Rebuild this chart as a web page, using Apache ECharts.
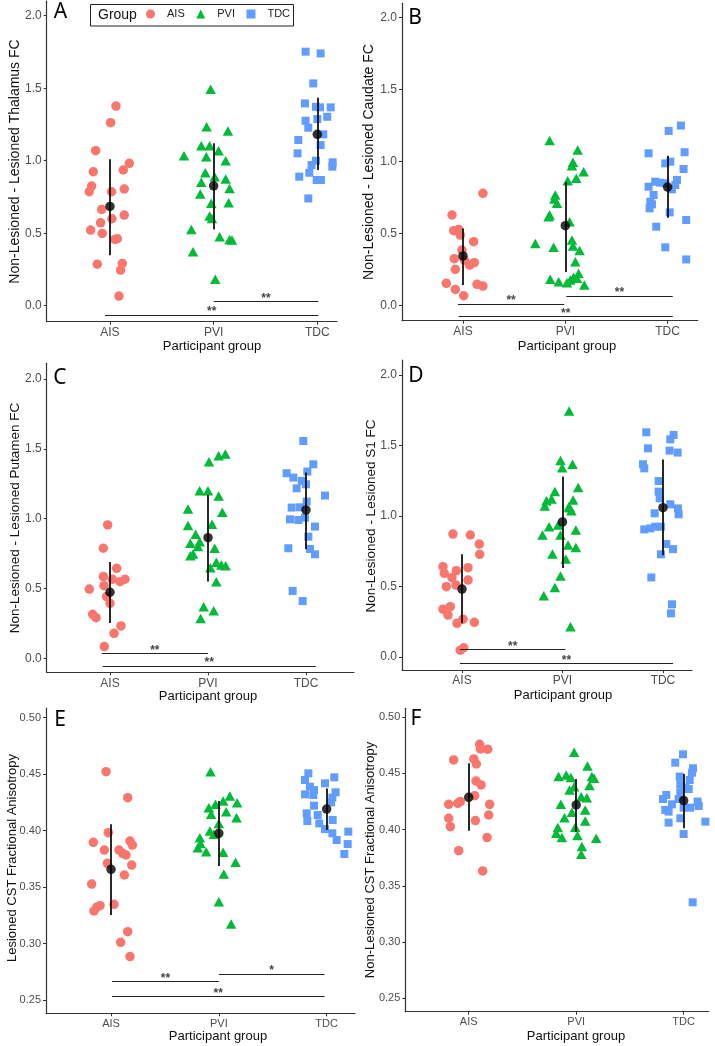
<!DOCTYPE html>
<html><head><meta charset="utf-8">
<script src="https://cdn.jsdelivr.net/npm/echarts@6/dist/echarts.min.js"></script>
<style>html,body{margin:0;padding:0;background:#fff}#chart{width:715px;height:1046px}</style>
</head><body><div id="chart"></div>
<script>
// ---------- DATA ----------
const GROUPS = ['AIS', 'PVI', 'TDC'];
const FC_TICKS = [0, 0.5, 1.0, 1.5, 2.0];
const FA_TICKS = [0.25, 0.30, 0.35, 0.40, 0.45, 0.50];

// Panel A: Thalamus FC
const A_AIS_y = [1.377,1.262,1.069,0.982,0.924,0.936,0.825,0.786,0.786,0.805,0.664,0.600,0.625,0.572,0.522,0.499,0.457,0.462,0.287,0.292,0.246,0.067];
const A_AIS_dx = [0.058,0.006,-0.138,0.187,-0.161,0.129,-0.177,-0.2,0.016,0.138,-0.08,0.019,0.138,-0.09,-0.186,-0.074,0.048,0.071,-0.122,0.119,0.103,0.087];
const A_PVI_y = [1.492,1.234,1.205,1.103,1.103,1.034,1.028,1.069,1.0,0.917,0.89,0.874,0.851,0.809,0.77,0.706,0.71,0.618,0.602,0.526,0.476,0.457,0.453,0.372,0.182];
const A_PVI_dx = [-0.029,-0.068,0.138,-0.119,-0.039,-0.286,-0.071,0.048,0.116,-0.08,0.01,0.116,-0.119,0.154,-0.129,-0.023,0.145,-0.039,-0.016,-0.215,0.058,0.154,0.177,-0.199,0.016];
const A_TDC_y = [1.752,1.74,1.533,1.395,1.372,1.368,1.368,1.303,1.276,1.287,1.228,1.182,1.143,1.108,1.051,1.0,0.989,0.959,0.97,0.89,0.917,0.867,0.867,0.74];
const A_TDC_dx = [-0.113,0.032,-0.039,-0.119,-0.013,0.026,0.129,0.096,-0.113,0,-0.087,0.058,-0.183,0.032,-0.19,-0.013,0.148,0.145,-0.055,-0.174,-0.077,-0.006,0.035,-0.087];
const A_mean = [0.685, 0.827, 1.182];
const A_lo = [0.349, 0.526, 0.936];
const A_hi = [1.011, 1.12, 1.434];
const A_sig = [[2.0, 3.01, 0.028, '**'], [0.952, 3.01, -0.064, '**']];

// Panel B: Caudate FC
const B_AIS_y = [0.779,0.629,0.52,0.529,0.49,0.444,0.386,0.326,0.317,0.252,0.282,0.298,0.155,0.148,0.136,0.113,0.069];
const B_AIS_dx = [0.195,-0.107,-0.091,-0.042,-0.026,0.104,-0.01,-0.085,0.013,-0.075,0.065,0.111,-0.163,0.137,0.195,-0.075,0.007];
const B_PVI_y = [1.145,1.08,0.994,0.971,0.929,0.883,0.867,0.768,0.74,0.71,0.629,0.617,0.583,0.432,0.405,0.455,0.414,0.382,0.305,0.183,0.166,0.16,0.197,0.224,0.19,0.143,0.178];
const B_PVI_dx = [-0.153,0.121,0.075,0.065,0.179,0.107,0.023,-0.098,-0.107,-0.081,-0.153,-0.163,0.042,-0.293,-0.114,0.065,0.075,0.14,0.098,-0.147,-0.065,0.016,0.081,0.13,0.114,0.186,0.049];
const B_TDC_y = [1.249,1.212,1.057,1.064,0.987,0.999,0.948,0.86,0.853,0.849,0.872,0.807,0.825,0.837,0.768,0.721,0.703,0.675,0.647,0.594,0.548,0.405,0.321];
const B_TDC_dx = [0.13,0.01,-0.186,0.166,-0.023,0.026,0.156,-0.121,-0.072,-0.023,0.091,0.042,-0.186,0.075,-0.137,-0.169,-0.153,-0.176,0.02,0.182,-0.111,-0.023,0.182];
const B_mean = [0.345, 0.555, 0.823];
const B_lo = [0.143, 0.234, 0.61];
const B_hi = [0.536, 0.856, 1.04];
const B_sig = [[0.951, 1.99, 0.012, '**'], [2.01, 3.05, 0.067, '**'], [0.957, 3.05, -0.076, '**']];

// Panel C: Putamen FC
const C_AIS_y = [0.955,0.788,0.644,0.585,0.566,0.549,0.566,0.52,0.496,0.442,0.394,0.315,0.291,0.232,0.179,0.084];
const C_AIS_dx = [-0.024,-0.068,0.068,-0.068,0.024,0.102,0.153,-0.061,-0.211,-0.034,0,-0.177,-0.143,0.112,0.041,-0.058];
const C_PVI_y = [1.463,1.451,1.408,1.2,1.2,1.162,1.069,1.045,0.95,0.959,0.888,0.835,0.823,0.8,0.788,0.747,0.735,0.649,0.687,0.668,0.663,0.549,0.37,0.341,0.286];
const C_PVI_dx = [0.177,0.109,0.01,-0.085,0,0.109,-0.204,0.146,-0.204,0.041,-0.126,-0.085,-0.18,-0.102,0.068,-0.153,-0.18,0.024,0.085,0.136,0.18,0.085,-0.044,0.058,-0.075];
const C_TDC_y = [1.556,1.389,1.325,1.337,1.294,1.27,1.217,1.246,1.165,1.122,1.079,1.081,0.995,0.99,1.007,0.943,0.871,0.788,0.783,0.745,0.482,0.41];
const C_TDC_dx = [-0.027,0.075,-0.197,0.014,-0.129,-0.044,-0.095,0,0.194,0.007,-0.146,-0.061,-0.163,-0.078,-0.01,0.092,0.024,-0.18,0.041,0.092,-0.136,-0.034];
const C_mean = [0.473, 0.864, 1.062];
const C_lo = [0.253, 0.55, 0.78];
const C_hi = [0.69, 1.17, 1.33];
const C_sig = [[0.915, 2.0, 0.036, '**'], [0.925, 3.1, -0.055, '**']];

// Panel D: S1 FC
const D_AIS_y = [0.871,0.864,0.8,0.727,0.639,0.592,0.611,0.632,0.561,0.544,0.497,0.509,0.338,0.355,0.296,0.267,0.237,0.244,0.064,0.047];
const D_AIS_dx = [-0.09,0.083,0.172,0.176,-0.189,-0.176,-0.056,0.06,-0.1,0.06,-0.156,-0.06,-0.189,-0.116,-0.139,0.01,-0.05,0.123,0.017,-0.017];
const D_PVI_y = [1.744,1.392,1.366,1.342,1.202,1.172,1.108,1.12,1.07,1.112,1.065,1.037,1.058,0.923,0.935,0.864,0.864,0.899,0.793,0.776,0.729,0.693,0.573,0.492,0.433,0.213];
const D_PVI_dx = [0.066,-0.02,0.1,-0.003,0.156,-0.076,-0.159,-0.109,-0.176,0.106,0.063,0.089,0.073,-0.133,-0.043,-0.199,-0.02,0.133,0.056,0.133,-0.1,0.033,-0.02,-0.076,-0.186,0.08];
const D_TDC_y = [1.593,1.574,1.543,1.479,1.463,1.449,1.366,1.337,1.247,1.172,1.124,1.082,1.053,1.011,1.018,0.904,0.911,0.923,0.923,0.8,0.764,0.727,0.563,0.372,0.308];
const D_TDC_dx = [-0.166,0.106,0.073,-0.149,0.066,0.146,-0.199,-0.186,-0.043,-0.043,-0.033,0.073,0.149,0.156,-0.083,-0.186,-0.126,-0.076,-0.02,0.033,0.1,-0.02,-0.116,0.09,0.08];
const D_mean = [0.48, 0.957, 1.058];
const D_lo = [0.237, 0.63, 0.72];
const D_hi = [0.727, 1.28, 1.40];
const D_sig = [[0.98, 2.03, 0.052, '**'], [0.98, 3.1, -0.047, '**']];

// Panel E: Lesioned CST FA
const E_AIS_y = [0.4522,0.4292,0.3982,0.3896,0.3908,0.3872,0.3828,0.3828,0.3799,0.3784,0.371,0.3695,0.3607,0.3527,0.3335,0.3321,0.3347,0.3288,0.3105,0.3011,0.2884];
const E_AIS_dx = [-0.046,0.155,-0.025,-0.164,0.176,0.198,-0.062,0.074,0.108,0.139,-0.034,0.192,0.124,-0.179,-0.102,-0.133,0.028,-0.158,0.155,0.09,0.176];
const E_PVI_y = [0.4522,0.4306,0.4262,0.4247,0.4203,0.4233,0.4168,0.4144,0.4115,0.4064,0.3937,0.3996,0.3967,0.3887,0.3849,0.3813,0.3808,0.3719,0.3616,0.3371,0.3173];
const E_PVI_dx = [-0.077,0.102,0.04,0.17,-0.093,-0.031,0.068,-0.071,0.164,0,-0.176,-0.083,-0.046,-0.17,-0.195,-0.117,0.04,0.155,0.046,0,0.114];
const E_TDC_y = [0.4507,0.4472,0.4448,0.4419,0.4389,0.4359,0.4339,0.4321,0.4315,0.4292,0.425,0.4221,0.4153,0.4138,0.4085,0.4094,0.4064,0.4014,0.3976,0.3991,0.3917,0.3881,0.3793];
const E_TDC_dx = [-0.17,0.071,-0.201,-0.015,-0.155,-0.117,0.083,-0.201,-0.124,0.053,0.04,-0.117,-0.185,-0.083,-0.179,0.056,-0.068,-0.015,0.053,0.201,0.093,0.195,0.164];
const E_mean = [0.3657, 0.3976, 0.4191];
const E_lo = [0.3253, 0.3687, 0.4005];
const E_hi = [0.4056, 0.4262, 0.4374];
const E_sig = [[1.01, 2.0, 0.2662, '**'], [2.0, 2.98, 0.273, '*'], [1.01, 2.98, 0.253, '**']];

// Panel F: Non-Lesioned CST FA
const F_AIS_y = [0.4757,0.4713,0.4716,0.4618,0.4627,0.4582,0.4431,0.4396,0.4301,0.4248,0.4233,0.4224,0.4224,0.4129,0.41,0.4079,0.4025,0.3928,0.3812,0.3632];
const F_AIS_dx = [0.102,0.177,0.109,-0.14,0.047,0.071,0.068,0.115,0.056,-0.078,-0.102,-0.186,0.195,0.186,-0.186,0.062,-0.171,0.171,-0.093,0.13];
const F_PVI_y = [0.4686,0.4565,0.447,0.4485,0.4461,0.447,0.4455,0.439,0.4351,0.4381,0.4292,0.4283,0.4224,0.4153,0.4174,0.4105,0.4076,0.4017,0.402,0.3966,0.3928,0.3946,0.3922,0.3848,0.378];
const F_PVI_dx = [-0.019,0.105,-0.164,-0.093,-0.05,0.146,0.167,0.124,-0.062,-0.019,0.047,0.099,-0.143,-0.04,0.084,-0.109,0.084,-0.171,-0.009,-0.186,-0.133,0.012,0.186,0.053,0.047];
const F_TDC_y = [0.4668,0.4594,0.4544,0.4505,0.447,0.444,0.4402,0.4372,0.436,0.4331,0.4307,0.4271,0.4271,0.4248,0.4224,0.4209,0.4174,0.4194,0.4194,0.4159,0.41,0.407,0.4061,0.396,0.3353];
const F_TDC_dx = [-0.006,-0.078,0.087,0.078,-0.037,0.056,-0.031,0.016,0.047,-0.031,-0.161,-0.192,-0.047,0.13,-0.109,0.14,-0.171,0,0.062,-0.14,-0.031,0.202,-0.14,0,0.084];
const F_mean = [0.4286, 0.4218, 0.4257];
const F_lo = [0.399, 0.3981, 0.4011];
const F_hi = [0.4588, 0.4449, 0.4494];
const F_sig = [];

const Y_TITLES = [
  'Non-Lesioned - Lesioned Thalamus FC',
  'Non-Lesioned - Lesioned Caudate FC',
  'Non-Lesioned - Lesioned Putamen FC',
  'Non-Lesioned - Lesioned S1 FC',
  'Lesioned CST Fractional Anisotropy',
  'Non-Lesioned CST Fractional Anisotropy'
];
const X_TITLE = 'Participant group';
const LETTERS = ['A', 'B', 'C', 'D', 'E', 'F'];

// ---------- assemble ----------
const PANELS = [
  {ys:[A_AIS_y,A_PVI_y,A_TDC_y], dx:[A_AIS_dx,A_PVI_dx,A_TDC_dx], mean:A_mean, lo:A_lo, hi:A_hi, sig:A_sig, ticks:FC_TICKS, dec:1},
  {ys:[B_AIS_y,B_PVI_y,B_TDC_y], dx:[B_AIS_dx,B_PVI_dx,B_TDC_dx], mean:B_mean, lo:B_lo, hi:B_hi, sig:B_sig, ticks:FC_TICKS, dec:1},
  {ys:[C_AIS_y,C_PVI_y,C_TDC_y], dx:[C_AIS_dx,C_PVI_dx,C_TDC_dx], mean:C_mean, lo:C_lo, hi:C_hi, sig:C_sig, ticks:FC_TICKS, dec:1},
  {ys:[D_AIS_y,D_PVI_y,D_TDC_y], dx:[D_AIS_dx,D_PVI_dx,D_TDC_dx], mean:D_mean, lo:D_lo, hi:D_hi, sig:D_sig, ticks:FC_TICKS, dec:1},
  {ys:[E_AIS_y,E_PVI_y,E_TDC_y], dx:[E_AIS_dx,E_PVI_dx,E_TDC_dx], mean:E_mean, lo:E_lo, hi:E_hi, sig:E_sig, ticks:FA_TICKS, dec:2},
  {ys:[F_AIS_y,F_PVI_y,F_TDC_y], dx:[F_AIS_dx,F_PVI_dx,F_TDC_dx], mean:F_mean, lo:F_lo, hi:F_hi, sig:F_sig, ticks:FA_TICKS, dec:2}
];

// layout (pixels / axis extents)
const LAYOUT = [
  {grid:{left:46.7, top:1.2, width:290.3, height:320.5}, xr:[0.39,3.19], yr:[-0.11,2.1], letter:[60.5,12], yt:[15,161.5,14], xt:[212,346], fs:12},
  {grid:{left:402, top:3.3, width:295.7, height:317.4}, xr:[0.404,3.294], yr:[-0.104,2.097], letter:[415,18.5], yt:[369.5,162,14], xt:[567,346], fs:12},
  {grid:{left:46.7, top:363.3, width:307.3, height:309}, xr:[0.354,3.49], yr:[-0.1,2.112], letter:[60,378.5], yt:[15,518,13.5], xt:[208,696.5], fs:12},
  {grid:{left:402, top:360, width:290, height:310}, xr:[0.403,3.289], yr:[-0.094,2.106], letter:[416,376.5], yt:[371,516,13.5], xt:[563,695.5], fs:12},
  {grid:{left:46, top:708, width:309, height:305.3}, xr:[0.397,3.263], yr:[0.2382,0.5086], letter:[60,720], yt:[12,858,13], xt:[218,1036.5], fs:11},
  {grid:{left:405.3, top:708.3, width:303.4, height:303.4}, xr:[0.41,3.233], yr:[0.2381,0.5077], letter:[416,719.5], yt:[370,860,13], xt:[576,1036.5], fs:11}
];

const COLORS = ['#F8766D', '#00BA38', '#619CFF'];
const SYMBOLS = ['circle', 'triangle', 'rect'];
const SIZES = [9.5, [10.5, 9.5], 8];
const FONT = '"Liberation Sans", Arial, sans-serif';

const grids = [], xAxes = [], yAxes = [], series = [], graphics = [];

PANELS.forEach((p, i) => {
  const L = LAYOUT[i];
  grids.push(Object.assign({outerBoundsMode:'none', containLabel:false}, L.grid));
  xAxes.push({
    type:'value', gridIndex:i, min:L.xr[0], max:L.xr[1],
    axisLine:{show:true, onZero:false, lineStyle:{color:'#333', width:1.2}},
    axisTick:{show:true, customValues:[1,2,3], length:3, lineStyle:{color:'#333', width:1}},
    axisLabel:{customValues:[1,2,3], formatter:v => GROUPS[Math.round(v)-1], color:'#4d4d4d', fontSize:L.fs, fontFamily:FONT, margin:5},
    splitLine:{show:false}
  });
  yAxes.push({
    type:'value', gridIndex:i, min:L.yr[0], max:L.yr[1],
    axisLine:{show:true, onZero:false, lineStyle:{color:'#333', width:1.2}},
    axisTick:{show:true, customValues:p.ticks, length:3, lineStyle:{color:'#333', width:1}},
    axisLabel:{customValues:p.ticks, formatter:v => Number(v).toFixed(p.dec), color:'#4d4d4d', fontSize:L.fs, fontFamily:FONT, margin:5},
    splitLine:{show:false}
  });
  // points
  GROUPS.forEach((g, k) => {
    series.push({
      type:'scatter', name:g, xAxisIndex:i, yAxisIndex:i,
      symbol:SYMBOLS[k], symbolSize:SIZES[k],
      itemStyle:{color:COLORS[k], opacity:1},
      data:p.ys[k].map((y, j) => [k + 1 + p.dx[k][j], y]),
      z:2, silent:true
    });
  });
  // SD bars
  series.push({
    type:'lines', coordinateSystem:'cartesian2d', xAxisIndex:i, yAxisIndex:i,
    data:p.mean.map((m, k) => ({coords:[[k+1, p.lo[k]], [k+1, p.hi[k]]]})),
    lineStyle:{color:'#111', width:1.8, opacity:1}, z:3, silent:true
  });
  // means
  series.push({
    type:'scatter', xAxisIndex:i, yAxisIndex:i, symbol:'circle', symbolSize:9.5,
    itemStyle:{color:'#000'}, data:p.mean.map((m, k) => [k+1, m]), z:4, silent:true
  });
  if (p.sig.length) {
    series.push({
      type:'lines', coordinateSystem:'cartesian2d', xAxisIndex:i, yAxisIndex:i,
      data:p.sig.map(s => ({coords:[[s[0], s[2]], [s[1], s[2]]]})),
      lineStyle:{color:'#222', width:1, opacity:1}, z:3, silent:true
    });
    series.push({
      type:'scatter', xAxisIndex:i, yAxisIndex:i, symbolSize:1,
      itemStyle:{color:'rgba(0,0,0,0)'},
      data:p.sig.map(s => ({value:[(s[0]+s[1])/2, s[2]], txt:s[3]})),
      label:{show:true, position:'inside', offset:[0,-3], formatter:d => d.data.txt,
             color:'#111', fontSize:12, fontWeight:'bold', fontFamily:FONT},
      z:5, silent:true
    });
  }
  // panel letter
  graphics.push({type:'text', x:L.letter[0], y:L.letter[1], z:10,
    style:{text:LETTERS[i], fontSize:21, fontFamily:'"Noto Sans", "Open Sans", sans-serif', fill:'#000', align:'center', verticalAlign:'middle'}});
  // y title
  graphics.push({type:'text', x:L.yt[0], y:L.yt[1], rotation:Math.PI/2, z:10,
    style:{text:Y_TITLES[i], fontSize:L.yt[2], fontFamily:FONT, fill:'#111', align:'center', verticalAlign:'middle'}});
  // x title
  graphics.push({type:'text', x:L.xt[0], y:L.xt[1], z:10,
    style:{text:X_TITLE, fontSize:13, fontFamily:FONT, fill:'#111', align:'center', verticalAlign:'middle'}});
});

// legend frame and title
graphics.push({type:'rect', shape:{x:90.5, y:4.5, width:203, height:21.5}, z:5,
  style:{fill:'#fff', stroke:'#222', lineWidth:1}});
graphics.push({type:'text', x:98, y:15.5, z:6,
  style:{text:'Group', fontSize:14, fontFamily:FONT, fill:'#111', align:'left', verticalAlign:'middle'}});

const option = {
  animation:false,
  backgroundColor:'#fff',
  grid:grids, xAxis:xAxes, yAxis:yAxes, series:series,
  legend:{
    data:GROUPS, left:146, top:8.5, padding:0, itemWidth:9, itemHeight:9, itemGap:11.5,
    selectedMode:false, z:20,
    textStyle:{fontSize:11, color:'#222', fontFamily:FONT, padding:[0,0,0,7]}
  },
  graphic:graphics
};
const chart = echarts.init(document.getElementById('chart'), null, {renderer:'canvas'});
chart.setOption(option);
</script></body></html>
